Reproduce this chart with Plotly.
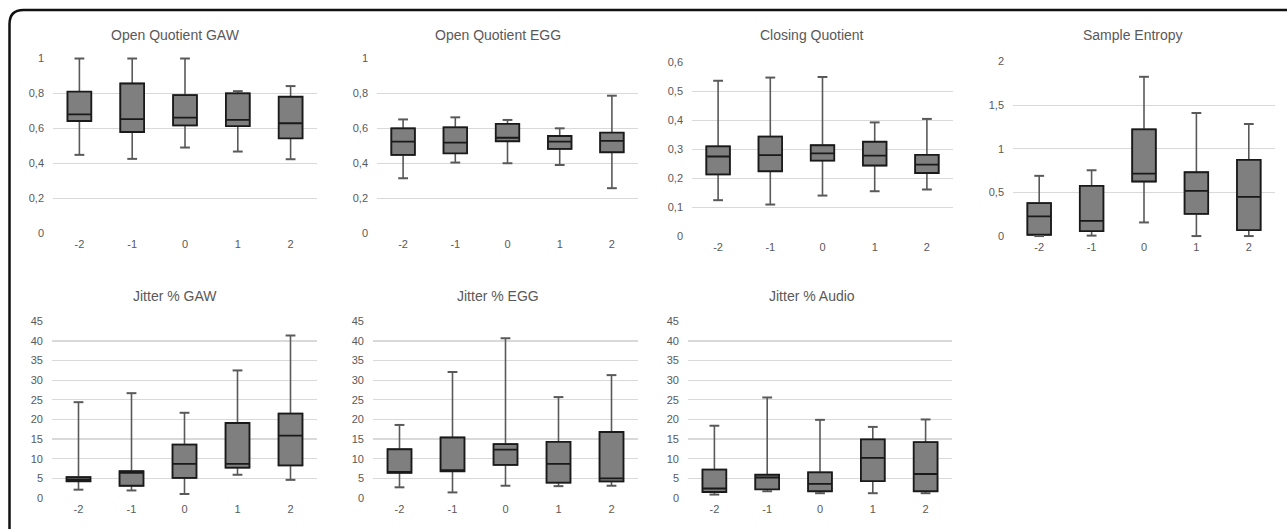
import plotly.graph_objects as go

W, H = 1287, 529

cats = ["-2", "-1", "0", "1", "2"]

titles = ["Open Quotient GAW", "Open Quotient EGG", "Closing Quotient", "Sample Entropy",
          "Jitter % GAW", "Jitter % EGG", "Jitter % Audio"]

# Open Quotient GAW
oq_gaw_min = [0.448, 0.425, 0.490, 0.467, 0.423]
oq_gaw_q1 = [0.642, 0.579, 0.617, 0.613, 0.543]
oq_gaw_med = [0.680, 0.653, 0.661, 0.648, 0.629]
oq_gaw_q3 = [0.810, 0.857, 0.790, 0.800, 0.781]
oq_gaw_max = [1.000, 1.000, 1.000, 0.813, 0.842]

# Open Quotient EGG
oq_egg_min = [0.314, 0.404, 0.400, 0.390, 0.257]
oq_egg_q1 = [0.448, 0.457, 0.526, 0.482, 0.463]
oq_egg_med = [0.524, 0.518, 0.546, 0.524, 0.528]
oq_egg_q3 = [0.600, 0.606, 0.625, 0.556, 0.575]
oq_egg_max = [0.651, 0.663, 0.648, 0.600, 0.787]

# Closing Quotient
cq_min = [0.124, 0.109, 0.140, 0.155, 0.161]
cq_q1 = [0.213, 0.224, 0.261, 0.244, 0.218]
cq_med = [0.275, 0.280, 0.286, 0.278, 0.247]
cq_q3 = [0.310, 0.344, 0.314, 0.326, 0.281]
cq_max = [0.537, 0.548, 0.550, 0.393, 0.405]

# Sample Entropy
se_min = [0.000, 0.005, 0.156, 0.000, 0.000]
se_q1 = [0.015, 0.057, 0.625, 0.255, 0.069]
se_med = [0.225, 0.175, 0.716, 0.518, 0.450]
se_q3 = [0.377, 0.575, 1.223, 0.731, 0.872]
se_max = [0.690, 0.754, 1.825, 1.410, 1.284]

# Jitter % GAW
jg_min = [2.1, 1.9, 1.0, 5.9, 4.6]
jg_q1 = [4.25, 3.1, 5.1, 7.7, 8.3]
jg_med = [4.7, 6.4, 8.7, 8.7, 15.9]
jg_q3 = [5.3, 6.8, 13.6, 19.1, 21.5]
jg_max = [24.4, 26.7, 21.7, 32.5, 41.4]

# Jitter % EGG
je_min = [2.7, 1.4, 3.1, 3.0, 3.1]
je_q1 = [6.4, 6.8, 8.4, 3.9, 4.2]
je_med = [6.4, 7.0, 12.3, 8.7, 5.0]
je_q3 = [12.4, 15.4, 13.7, 14.3, 16.8]
je_max = [18.6, 32.1, 40.7, 25.7, 31.3]

# Jitter % Audio
ja_min = [0.85, 1.7, 1.2, 1.2, 1.2]
ja_q1 = [1.5, 2.2, 1.7, 4.3, 1.7]
ja_med = [2.4, 5.2, 3.6, 10.2, 6.1]
ja_q3 = [7.2, 5.9, 6.5, 14.9, 14.2]
ja_max = [18.4, 25.6, 19.9, 18.1, 20.0]

panels = [
    (oq_gaw_min, oq_gaw_q1, oq_gaw_med, oq_gaw_q3, oq_gaw_max),
    (oq_egg_min, oq_egg_q1, oq_egg_med, oq_egg_q3, oq_egg_max),
    (cq_min, cq_q1, cq_med, cq_q3, cq_max),
    (se_min, se_q1, se_med, se_q3, se_max),
    (jg_min, jg_q1, jg_med, jg_q3, jg_max),
    (je_min, je_q1, je_med, je_q3, je_max),
    (ja_min, ja_q1, ja_med, ja_q3, ja_max),
]

y_max = [1, 1, 0.6, 2, 45, 45, 45]
y_dtick = [0.2, 0.2, 0.1, 0.5, 5, 5, 5]

# plot-area boxes in target pixels (left, right, top, bottom)
boxes_px = [
    (53, 317, 58, 233),
    (377, 638, 58, 233),
    (692, 953, 62, 236),
    (1013, 1275, 61, 236),
    (52, 317, 320, 497),
    (373, 638, 320, 497),
    (688, 952, 320, 497),
]
title_px = [(175, 35), (498, 35), (812, 35), (1133, 35),
            (175, 295), (498, 295), (812, 295)]


def px(x):
    return x / W


def py(y):
    # compensate the small vertical shift/scale seen in the rendered capture
    yp = (y - 6.0) / 0.976
    return 1 - yp / H


FONT = "Liberation Sans, Arial, sans-serif"
TXT = "#595959"
GRID = "#d9d9d9"
WHISK = "#595959"

fig = go.Figure()
layout = dict(
    width=W, height=H,
    margin=dict(l=0, r=0, t=0, b=0),
    paper_bgcolor="white", plot_bgcolor="white",
    showlegend=False,
    separators=", ",
    font=dict(family=FONT, color=TXT, size=11),
    boxmode="overlay",
)

annotations = []
for i, (lo, q1, med, q3, hi) in enumerate(panels):
    n = i + 1
    xa = "x" if n == 1 else f"x{n}"
    ya = "y" if n == 1 else f"y{n}"
    l, r, t, b = boxes_px[i]
    # whisker box (gray)
    fig.add_trace(go.Box(
        x=cats, q1=q1, median=med, q3=q3, lowerfence=lo, upperfence=hi,
        xaxis=xa, yaxis=ya, width=0.45, whiskerwidth=0,
        fillcolor="#7f7f7f", line=dict(color=WHISK, width=1.6),
        boxpoints=False, hoverinfo="skip",
    ))
    # black outline box on top
    fig.add_trace(go.Box(
        x=cats, q1=q1, median=med, q3=q3, lowerfence=q1, upperfence=q3,
        xaxis=xa, yaxis=ya, width=0.45, whiskerwidth=0,
        fillcolor="#7f7f7f", line=dict(color="#1a1a1a", width=1.8),
        boxpoints=False, hoverinfo="skip",
    ))
    # whisker caps
    fig.add_trace(go.Scatter(
        x=cats + cats, y=list(lo) + list(hi), mode="markers",
        xaxis=xa, yaxis=ya, cliponaxis=False,
        marker=dict(symbol="line-ew", size=7, line=dict(color=WHISK, width=2)),
        hoverinfo="skip",
    ))
    span = y_max[i]
    layout["xaxis" if n == 1 else f"xaxis{n}"] = dict(
        domain=[px(l), px(r)], anchor=ya, type="category",
        range=[-0.5, 4.5], showgrid=False, zeroline=False, showline=False,
        ticks="", ticklabelstandoff=2,
        tickfont=dict(family=FONT, size=11, color=TXT), fixedrange=True,
    )
    layout["yaxis" if n == 1 else f"yaxis{n}"] = dict(
        domain=[py(b), py(t)], anchor=xa,
        range=[-0.004 * span, span * 1.002], dtick=y_dtick[i], tick0=0,
        showgrid=True, gridcolor=GRID, gridwidth=1.2, zeroline=False,
        showline=False, ticks="", ticklabelstandoff=8,
        tickfont=dict(family=FONT, size=11, color=TXT), fixedrange=True,
    )
    tx, ty = title_px[i]
    annotations.append(dict(
        text=titles[i], x=px(tx), y=py(ty), xref="paper", yref="paper",
        showarrow=False, xanchor="center", yanchor="middle",
        font=dict(family=FONT, size=14, color=TXT),
    ))

layout["annotations"] = annotations

# outer rounded frame (top and left edges)
x0, rad = 9.5, 14
ytop = py(10)
path = (f"M {px(x0)},-0.05 L {px(x0)},{py(10 + rad)} "
        f"Q {px(x0)},{ytop} {px(x0 + rad)},{ytop} L 1.01,{ytop}")
layout["shapes"] = [dict(type="path", xref="paper", yref="paper", path=path,
                         line=dict(color="#111111", width=2.5))]

fig.update_layout(**layout)
fig.write_html(
    "out.html",
    config={"displayModeBar": False, "staticPlot": True},
    post_script="document.body.style.margin='0';document.body.style.overflow='hidden';",
)
